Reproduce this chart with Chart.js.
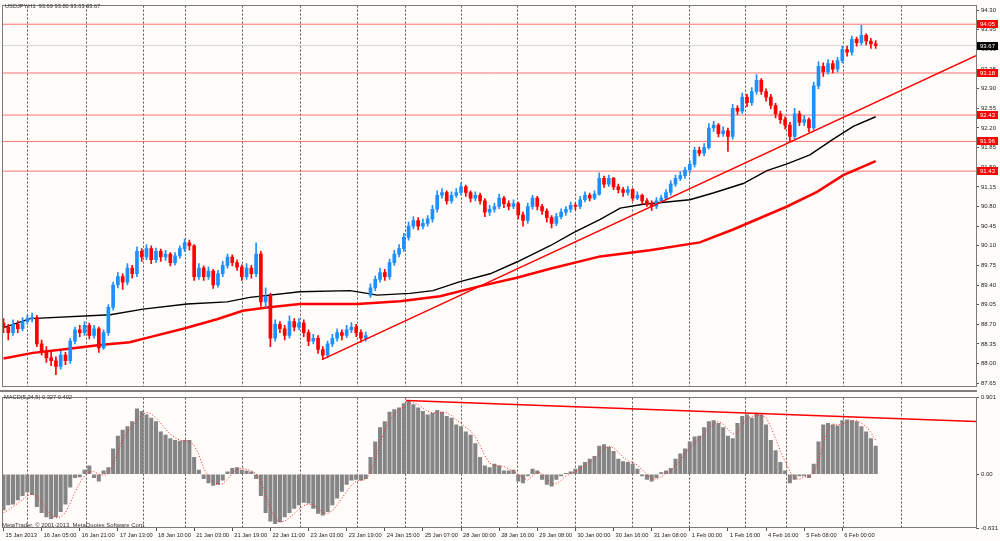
<!DOCTYPE html>
<html>
<head>
<meta charset="utf-8">
<script src="https://cdn.jsdelivr.net/npm/chart.js@4.4.1/dist/chart.umd.min.js"></script>
<style>
  html, body { margin: 0; padding: 0; background: #fffcfa; }
  #wrap { position: relative; width: 1000px; height: 541px; overflow: hidden;
          font-family: "Liberation Sans", sans-serif; }
  canvas { position: absolute; left: 0; }
  #price { top: 0; }
  #macd { top: 392px; }
  .txt { position: absolute; font-size: 5.7px; color: #333; white-space: pre; line-height: 7px; }
  #sep { position: absolute; left: 0; top: 390px; width: 977px; height: 2px; background: #7d7d7d; }
</style>
</head>
<body>
<div id="wrap">
  <canvas id="price" width="1000" height="392"></canvas>
  <canvas id="macd" width="1000" height="149"></canvas>
  <div id="sep"></div>
  <div class="txt" style="left:5px; top:3px;">USDJPY,H1  93.69 93.80 93.63 93.67</div>
  <div class="txt" style="left:4px; top:394px;">MACD(5,34,5) 0.327 0.402</div>
  <div class="txt" style="left:2px; top:522px; font-size:5.9px;">MetaTrader, © 2001-2013, MetaQuotes Software Corp.</div>
</div>
<script>
// 2-hour bars from 15 Jan 2013 to 6 Feb 2013 (bar index on the x axis)
const opens = [88.72,88.65,88.55,88.70,88.62,88.75,88.80,88.82,88.35,88.22,
  88.10,88.05,87.95,88.15,88.05,88.40,88.60,88.55,88.68,88.50,
  88.62,88.28,88.55,89.00,89.40,89.55,89.45,89.70,89.60,90.00,
  89.90,90.05,89.85,90.00,89.90,89.95,89.80,89.92,90.05,90.15,
  90.10,89.55,89.70,89.55,89.65,89.40,89.60,89.75,89.90,89.80,
  89.72,89.55,89.70,89.60,89.95,89.10,89.20,88.45,88.70,88.62,
  88.50,88.75,88.65,88.72,88.55,88.40,88.45,88.25,88.15,88.35,
  88.45,88.55,88.50,88.60,88.65,88.55,88.45,89.22,89.35,89.50,
  89.62,89.55,89.80,89.95,90.05,90.25,90.45,90.55,90.45,90.50,
  90.58,90.75,91.00,91.05,90.90,91.00,91.05,91.15,91.05,90.95,
  91.00,90.90,90.70,90.75,90.80,90.95,90.85,90.80,90.85,90.65,
  90.55,90.80,90.95,90.80,90.72,90.60,90.50,90.62,90.70,90.75,
  90.82,90.80,90.92,91.00,90.95,91.02,91.30,91.20,91.30,91.15,
  91.10,91.05,91.10,90.95,91.00,90.90,90.85,90.80,90.90,90.95,
  91.05,91.20,91.30,91.35,91.45,91.55,91.80,91.75,91.85,92.20,
  92.25,92.10,92.15,92.05,92.55,92.50,92.75,92.65,92.85,93.05,
  92.85,92.75,92.60,92.45,92.35,92.25,92.05,92.45,92.30,92.35,
  92.20,92.95,93.30,93.20,93.35,93.25,93.40,93.60,93.55,93.78,
  93.72,93.85,93.75,93.70];
const highs = [88.80,88.70,88.78,88.76,88.82,88.86,88.90,88.86,88.42,88.30,
  88.20,88.12,88.22,88.20,88.45,88.65,88.68,88.75,88.72,88.68,
  88.65,88.60,89.05,89.45,89.62,89.60,89.78,89.75,90.08,90.05,
  90.12,90.10,90.06,90.04,90.02,89.98,89.98,90.10,90.22,90.20,
  90.12,89.78,89.74,89.72,89.68,89.66,89.82,89.95,89.94,89.85,
  89.76,89.78,89.75,90.15,90.00,89.35,89.25,88.78,88.75,88.68,
  88.85,88.80,88.80,88.78,88.60,88.52,88.50,88.30,88.40,88.52,
  88.62,88.60,88.68,88.73,88.70,88.60,88.56,89.42,89.56,89.70,
  89.68,89.86,90.02,90.12,90.32,90.52,90.62,90.60,90.58,90.64,
  90.82,91.08,91.12,91.08,91.06,91.12,91.22,91.18,91.08,91.06,
  91.04,90.94,90.82,90.86,91.02,90.98,90.90,90.92,90.88,90.70,
  90.86,91.00,90.98,90.84,90.76,90.64,90.68,90.76,90.80,90.88,
  90.86,90.98,91.06,91.04,91.08,91.40,91.34,91.36,91.32,91.20,
  91.14,91.16,91.12,91.06,91.02,90.94,90.90,90.96,91.00,91.10,
  91.26,91.36,91.42,91.50,91.62,91.86,91.86,91.92,92.28,92.32,
  92.28,92.22,92.20,92.62,92.60,92.82,92.80,92.92,93.15,93.08,
  92.90,92.80,92.64,92.50,92.40,92.30,92.55,92.50,92.42,92.38,
  93.02,93.38,93.36,93.42,93.40,93.46,93.66,93.66,93.84,93.82,
  94.03,93.88,93.80,93.76];
const lows = [88.55,88.42,88.50,88.55,88.58,88.70,88.74,88.30,88.15,88.02,
  87.96,87.80,87.90,87.98,88.00,88.35,88.48,88.50,88.44,88.45,
  88.20,88.25,88.50,88.95,89.35,89.32,89.40,89.52,89.55,89.82,
  89.85,89.78,89.80,89.82,89.84,89.74,89.76,89.88,90.00,90.02,
  89.48,89.50,89.48,89.50,89.34,89.36,89.55,89.70,89.74,89.66,
  89.48,89.50,89.52,89.55,89.02,89.00,88.30,88.40,88.55,88.42,
  88.45,88.58,88.60,88.48,88.32,88.35,88.18,88.07,88.10,88.30,
  88.40,88.42,88.46,88.55,88.48,88.38,88.40,89.18,89.30,89.45,
  89.48,89.50,89.75,89.90,90.00,90.20,90.40,90.38,90.40,90.45,
  90.52,90.70,90.95,90.84,90.86,90.96,91.00,90.98,90.88,90.90,
  90.84,90.62,90.64,90.70,90.76,90.78,90.74,90.76,90.58,90.45,
  90.50,90.75,90.74,90.66,90.52,90.42,90.46,90.58,90.64,90.70,
  90.74,90.76,90.88,90.90,90.92,91.00,91.14,91.16,91.10,91.04,
  90.98,91.00,90.90,90.92,90.84,90.80,90.73,90.76,90.86,90.92,
  91.00,91.16,91.26,91.30,91.40,91.50,91.70,91.70,91.82,92.14,
  92.04,92.05,91.78,92.00,92.44,92.46,92.58,92.60,92.80,92.80,
  92.68,92.54,92.38,92.28,92.18,91.97,92.00,92.24,92.24,92.13,
  92.16,92.90,93.12,93.16,93.18,93.20,93.36,93.48,93.50,93.66,
  93.68,93.68,93.62,93.62];
const closes = [88.65,88.55,88.70,88.62,88.75,88.80,88.82,88.35,88.22,88.10,
  88.05,87.95,88.15,88.05,88.40,88.60,88.55,88.68,88.50,88.62,
  88.28,88.55,89.00,89.40,89.55,89.45,89.70,89.60,90.00,89.90,
  90.05,89.85,90.00,89.90,89.95,89.80,89.92,90.05,90.15,90.10,
  89.55,89.70,89.55,89.65,89.40,89.60,89.75,89.90,89.80,89.72,
  89.55,89.70,89.60,89.95,89.10,89.20,88.45,88.70,88.62,88.50,
  88.75,88.65,88.72,88.55,88.40,88.45,88.25,88.15,88.35,88.45,
  88.55,88.50,88.60,88.65,88.55,88.45,88.50,89.35,89.50,89.62,
  89.55,89.80,89.95,90.05,90.25,90.45,90.55,90.45,90.50,90.58,
  90.75,91.00,91.05,90.90,91.00,91.05,91.15,91.05,90.95,91.00,
  90.90,90.70,90.75,90.80,90.95,90.85,90.80,90.85,90.65,90.55,
  90.80,90.95,90.80,90.72,90.60,90.50,90.62,90.70,90.75,90.82,
  90.80,90.92,91.00,90.95,91.02,91.30,91.20,91.30,91.15,91.10,
  91.05,91.10,90.95,91.00,90.90,90.85,90.80,90.90,90.95,91.05,
  91.20,91.30,91.35,91.45,91.55,91.80,91.75,91.85,92.20,92.25,
  92.10,92.15,92.05,92.55,92.50,92.75,92.65,92.85,93.05,92.85,
  92.75,92.60,92.45,92.35,92.25,92.05,92.45,92.30,92.35,92.20,
  92.95,93.30,93.20,93.35,93.25,93.40,93.60,93.55,93.78,93.72,
  93.85,93.75,93.70,93.67];

// moving averages, read at a few bars
const maBlackX = [0,5.6,22.4,29.3,38.5,46.9,51.7,62.2,72.7,76.3,78.4,85.3,90.1,95.8,102.1,107.7,114.7,119.5,125.2,129.4,134.2,139.2,144,148.9,155.2,160.2,164.4,169.2,174.1,178.3,183];
const maBlackY = [88.64,88.80,88.87,88.97,89.06,89.10,89.18,89.28,89.30,89.25,89.22,89.25,89.30,89.46,89.60,89.81,90.10,90.33,90.57,90.77,90.84,90.88,90.92,91.04,91.21,91.44,91.56,91.72,92.00,92.23,92.40];
const maRedX = [0,6.2,13.3,20.2,26.5,30.7,37.7,44.8,50.2,55.3,62.2,74.2,83.2,91.6,100,107.7,114.7,125.2,135.6,146.1,153.1,164.4,170.7,176.2,183];
const maRedY = [88.09,88.19,88.26,88.33,88.38,88.47,88.62,88.79,88.94,89.00,89.06,89.06,89.11,89.20,89.38,89.53,89.69,89.91,90.02,90.16,90.39,90.80,91.06,91.36,91.61];

const levels = [94.05, 93.18, 92.43, 91.96, 91.43];
const bidPrice = 93.67;
const trendX = [66.8, 204.05];
const trendY = [88.07, 93.49];

const macdHist = [-0.42,-0.36,-0.35,-0.30,-0.25,-0.21,-0.24,-0.38,-0.45,-0.50,
  -0.52,-0.50,-0.44,-0.35,-0.15,-0.04,-0.03,0.05,0.10,-0.04,
  -0.08,0.04,0.08,0.30,0.45,0.52,0.56,0.62,0.77,0.74,
  0.70,0.66,0.62,0.50,0.46,0.42,0.40,0.39,0.40,0.40,
  0.20,0.05,-0.05,-0.10,-0.13,-0.12,-0.07,0.03,0.07,0.08,
  0.05,0.04,0.03,-0.05,-0.25,-0.45,-0.55,-0.58,-0.56,-0.50,
  -0.45,-0.40,-0.36,-0.33,-0.34,-0.40,-0.46,-0.48,-0.44,-0.36,
  -0.28,-0.20,-0.12,-0.07,-0.06,-0.07,-0.05,0.20,0.38,0.55,
  0.62,0.73,0.76,0.78,0.83,0.87,0.82,0.78,0.74,0.70,
  0.72,0.75,0.73,0.68,0.66,0.58,0.56,0.50,0.46,0.36,
  0.20,0.10,0.08,0.12,0.10,0.04,0.04,0.05,-0.08,-0.10,
  -0.02,0.06,0.04,-0.06,-0.12,-0.14,-0.06,-0.02,0.01,0.03,
  0.06,0.10,0.14,0.18,0.21,0.33,0.35,0.32,0.27,0.18,
  0.15,0.14,0.12,0.06,-0.02,-0.06,-0.08,-0.04,0.02,0.04,
  0.07,0.18,0.24,0.30,0.38,0.44,0.45,0.55,0.62,0.63,
  0.60,0.55,0.45,0.42,0.60,0.68,0.70,0.66,0.72,0.70,
  0.58,0.40,0.28,0.14,0.04,-0.10,-0.06,-0.02,-0.02,-0.04,
  0.12,0.38,0.58,0.60,0.58,0.57,0.63,0.64,0.63,0.62,
  0.56,0.50,0.42,0.33];
const macdSignal = [-0.45,-0.42,-0.38,-0.34,-0.30,-0.25,-0.23,-0.26,-0.33,-0.42,
  -0.48,-0.51,-0.50,-0.45,-0.34,-0.21,-0.10,-0.02,0.03,0.03,
  0.00,-0.01,0.01,0.11,0.26,0.41,0.50,0.56,0.64,0.70,
  0.73,0.71,0.66,0.60,0.53,0.47,0.43,0.40,0.39,0.39,
  0.34,0.23,0.07,-0.03,-0.09,-0.12,-0.11,-0.06,0.01,0.06,
  0.07,0.06,0.04,0.01,-0.08,-0.24,-0.41,-0.52,-0.56,-0.55,
  -0.51,-0.46,-0.41,-0.37,-0.35,-0.36,-0.40,-0.45,-0.46,-0.43,
  -0.36,-0.28,-0.20,-0.13,-0.08,-0.07,-0.06,0.02,0.17,0.37,
  0.51,0.63,0.70,0.76,0.79,0.83,0.84,0.82,0.78,0.74,
  0.72,0.72,0.73,0.72,0.69,0.64,0.60,0.55,0.51,0.44,
  0.34,0.22,0.13,0.10,0.10,0.09,0.06,0.04,0.00,-0.04,
  -0.07,-0.02,0.03,0.01,-0.05,-0.11,-0.11,-0.07,-0.02,0.01,
  0.03,0.06,0.10,0.14,0.18,0.24,0.30,0.33,0.31,0.26,
  0.20,0.16,0.14,0.11,0.05,0.00,-0.05,-0.06,-0.03,0.01,
  0.04,0.10,0.16,0.24,0.31,0.37,0.42,0.48,0.54,0.60,
  0.62,0.59,0.53,0.47,0.49,0.57,0.66,0.68,0.69,0.69,
  0.67,0.56,0.42,0.27,0.15,0.03,-0.04,-0.06,-0.03,-0.03,
  0.02,0.15,0.36,0.52,0.59,0.58,0.59,0.61,0.63,0.63,
  0.60,0.56,0.49,0.40];
const macdTrendX = [84.45, 204.05];
const macdTrendY = [0.866, 0.621];

// axes
const priceTicks = [94.30,93.95,93.60,93.25,92.90,92.55,92.20,91.85,91.50,91.15,90.80,90.45,90.10,89.75,89.40,89.05,88.70,88.35,88.00,87.65];
const macdTicks = [-0.631, 0, 0.901];
const dayLines = [5.14,17.31,29.27,38.29,50.25,62.42,74.38,84.45,96.0,107.95,120.1,132.06,144.0,155.6,164.2,176.2,188.4];
const timeLabels = ['15 Jan 2013','16 Jan 05:00','16 Jan 21:00','17 Jan 13:00','18 Jan 10:00','21 Jan 03:00',
  '21 Jan 19:00','22 Jan 11:00','23 Jan 03:00','23 Jan 19:00','24 Jan 15:00','25 Jan 07:00','28 Jan 00:00',
  '28 Jan 16:00','29 Jan 08:00','30 Jan 00:00','30 Jan 16:00','31 Jan 08:00','1 Feb 00:00','1 Feb 16:00',
  '4 Feb 16:00','5 Feb 08:00','6 Feb 00:00'];

const xMin = -0.21, xMax = 204.05;
const fontFam = '"Liberation Sans", sans-serif';
const upColor = '#1e8fff', downColor = '#ff0000';

const candleColors = closes.map((c, i) => c >= opens[i] ? upColor : downColor);
const toPoints = (xs, ys) => xs.map((x, i) => ({ x: x, y: ys[i] }));
const flatLine = v => [{ x: xMin, y: v }, { x: xMax, y: v }];

const framePlugin = {
  id: 'frame',
  afterDraw(chart) {
    const a = chart.chartArea, ctx = chart.ctx;
    ctx.save();
    ctx.strokeStyle = '#7a7a7a';
    ctx.lineWidth = 1;
    ctx.strokeRect(Math.floor(a.left) + 0.5, Math.floor(a.top) + 0.5, Math.round(a.right - a.left), Math.round(a.bottom - a.top));
    ctx.restore();
  }
};

const tagPlugin = {
  id: 'tags',
  afterDraw(chart) {
    const ctx = chart.ctx, y = chart.scales.y, right = chart.chartArea.right;
    ctx.save();
    ctx.font = '6px ' + fontFam;
    ctx.textBaseline = 'middle';
    const draw = (v, bg) => {
      const py = Math.round(y.getPixelForValue(v));
      ctx.fillStyle = bg;
      ctx.fillRect(right + 1, py - 4, 21, 8);
      ctx.fillStyle = '#ffffff';
      ctx.fillText(v.toFixed(2), right + 4, py + 0.5);
    };
    levels.forEach(v => draw(v, '#ff0000'));
    draw(bidPrice, '#000000');
    ctx.restore();
  }
};

function dayGridAxis() {
  return {
    type: 'linear', min: xMin, max: xMax, offset: false, weight: 0,
    afterBuildTicks: s => { s.ticks = dayLines.map(v => ({ value: v })); },
    afterFit: s => { s.height = 0; },
    ticks: { display: false },
    grid: { color: '#555555', lineWidth: 1, drawTicks: false, offset: false },
    border: { display: false, dash: [2, 2] }
  };
}

function rightAxis(min, max, ticks, fmt) {
  return {
    position: 'right', min: min, max: max,
    afterBuildTicks: s => { s.ticks = ticks.map(v => ({ value: v })); },
    afterFit: s => { s.width = 24; },
    ticks: { color: '#222', padding: 2, font: { size: 6, family: fontFam }, callback: fmt },
    grid: { drawOnChartArea: false, tickLength: 3, color: '#555' },
    border: { display: true, color: '#777' }
  };
}

new Chart(document.getElementById('price'), {
  type: 'bar',
  data: {
    datasets: [
      ...levels.map(v => ({ type: 'line', data: flatLine(v), borderColor: 'rgba(255,90,90,0.85)', borderWidth: 1, pointRadius: 0, order: 10 })),
      { type: 'line', data: flatLine(bidPrice), borderColor: '#d6d6d6', borderWidth: 1, pointRadius: 0, order: 9 },
      { type: 'line', data: toPoints(maRedX, maRedY), borderColor: '#ff0000', borderWidth: 2.5, pointRadius: 0, order: 6 },
      { type: 'line', data: toPoints(maBlackX, maBlackY), borderColor: '#000000', borderWidth: 1.4, pointRadius: 0, order: 5 },
      { type: 'bar', data: closes.map((c, i) => ({ x: i, y: [lows[i], highs[i]] })), backgroundColor: candleColors,
        barThickness: 1, grouped: false, minBarLength: 1, order: 3 },
      { type: 'bar', data: closes.map((c, i) => ({ x: i, y: [opens[i], c] })), backgroundColor: candleColors,
        barThickness: 3, grouped: false, minBarLength: 1, order: 2 },
      { type: 'line', data: toPoints(trendX, trendY), borderColor: '#ff0000', borderWidth: 1.5, pointRadius: 0, order: 1 }
    ]
  },
  options: {
    responsive: false, animation: false,
    layout: { padding: { left: 2.5, top: 2, right: 0, bottom: 2 } },
    plugins: { legend: { display: false }, tooltip: { enabled: false } },
    scales: {
      x: dayGridAxis(),
      y: rightAxis(87.592, 94.382, priceTicks, v => v.toFixed(2))
    }
  },
  plugins: [framePlugin, tagPlugin]
});

new Chart(document.getElementById('macd'), {
  type: 'bar',
  data: {
    datasets: [
      { type: 'bar', data: macdHist.map((v, i) => ({ x: i, y: v })), backgroundColor: '#858585',
        barThickness: 3.4, grouped: false, order: 3 },
      { type: 'line', data: macdSignal.map((v, i) => ({ x: i, y: v })), borderColor: '#ff2020', borderWidth: 1,
        borderDash: [1, 2], pointRadius: 0, order: 2 },
      { type: 'line', data: toPoints(macdTrendX, macdTrendY), borderColor: '#ff0000', borderWidth: 1.5, pointRadius: 0, order: 1 }
    ]
  },
  options: {
    responsive: false, animation: false,
    layout: { padding: { left: 2.5, top: 2, right: 0, bottom: 0 } },
    plugins: { legend: { display: false }, tooltip: { enabled: false } },
    scales: {
      x: dayGridAxis(),
      x2: {
        type: 'linear', position: 'bottom', weight: 1, min: xMin, max: xMax, offset: false,
        afterBuildTicks: s => { s.ticks = timeLabels.map((t, i) => ({ value: i * 8 })); },
        afterFit: s => { s.height = 13; },
        ticks: { autoSkip: false, maxRotation: 0, align: 'start', labelOffset: 2, padding: 1, color: '#222',
                 font: { size: 5.7, family: fontFam }, callback: (v, i) => timeLabels[i] },
        grid: { drawOnChartArea: false, tickLength: 3, color: '#555', offset: false },
        border: { display: false }
      },
      y: rightAxis(-0.631, 0.901, macdTicks, v => v === 0 ? '0.00' : v.toFixed(3))
    }
  },
  plugins: [framePlugin]
});
</script>
</body>
</html>
